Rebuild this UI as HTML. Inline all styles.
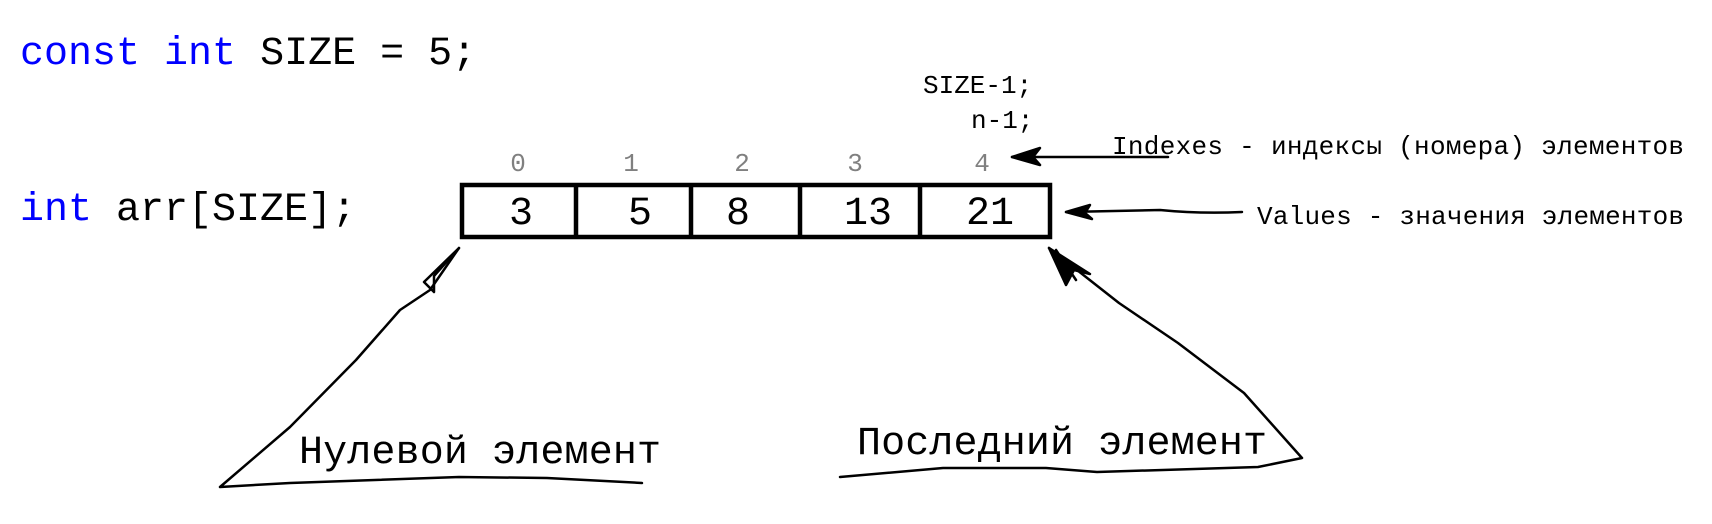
<!DOCTYPE html>
<html><head><meta charset="utf-8"><style>
html,body{margin:0;padding:0;background:#fff;width:1712px;height:524px;overflow:hidden}
svg{display:block}
text{font-family:"Liberation Mono","DejaVu Sans Mono",monospace}
</style></head><body>
<svg width="1712" height="524" viewBox="0 0 1712 524" xmlns="http://www.w3.org/2000/svg">
<text x="20" y="64" font-size="40" fill="#000"><tspan fill="#0000ff">const</tspan> <tspan fill="#0000ff">int</tspan> SIZE = 5;</text>
<text x="20" y="220" font-size="40" fill="#000"><tspan fill="#0000ff">int</tspan> arr[SIZE];</text>

<text x="923" y="93" font-size="26">SIZE-1;</text>
<text x="971" y="128" font-size="26">n-1;</text>
<text x="1112" y="154" font-size="26" textLength="572">Indexes - индексы (номера) элементов</text>
<text x="1257" y="224" font-size="26" textLength="427">Values - значения элементов</text>

<g font-size="26" fill="#808080" text-anchor="middle">
<text x="518" y="171">0</text><text x="631" y="171">1</text><text x="742" y="171">2</text><text x="855" y="171">3</text><text x="982" y="171">4</text>
</g>

<rect x="462" y="185" width="588" height="52" fill="none" stroke="#000" stroke-width="4.5"/>
<g stroke="#000" stroke-width="4.5">
<line x1="576" y1="185" x2="576" y2="237"/><line x1="691" y1="185" x2="691" y2="237"/>
<line x1="800" y1="185" x2="800" y2="237"/><line x1="920" y1="185" x2="920" y2="237"/>
</g>
<g font-size="40" text-anchor="middle">
<text x="521" y="224">3</text><text x="640" y="224">5</text><text x="738" y="224">8</text><text x="868" y="224">13</text><text x="990" y="224">21</text>
</g>

<g fill="none" stroke="#000" stroke-width="2.5" stroke-linejoin="round" stroke-linecap="round">
<path d="M1168 157 L1012 157"/>
<path d="M1012 157 L1040 148 L1033 157 L1040 165 Z" fill="#000"/>
<path d="M1242 212 Q1200 214 1160 210 L1066 212"/>
<path d="M1066 212 L1090 205 L1085 213 L1092 219 Z" fill="#000"/>

<path d="M459 248 L430 290 L400 310 L356 360 L290 427 L220 487 L290 483 L459 477 L547 478 L642 483"/>
<path d="M459 248 L424 282 L434 292 L434 276 Z"/>
<path d="M1049 248 L1119 303 L1178 343 L1244 393 L1302 458 L1258 467 L1097 472 L1046 468 L943 468 L840 477"/>
<path d="M1049 248 L1066 285 L1074 270 L1090 274 Z" fill="#000"/>
<path d="M1056 250 L1076 280"/>
</g>

<text x="299" y="463" font-size="40" textLength="362">Нулевой элемент</text>
<text x="857" y="454" font-size="40" textLength="410">Последний элемент</text>
</svg>
</body></html>
